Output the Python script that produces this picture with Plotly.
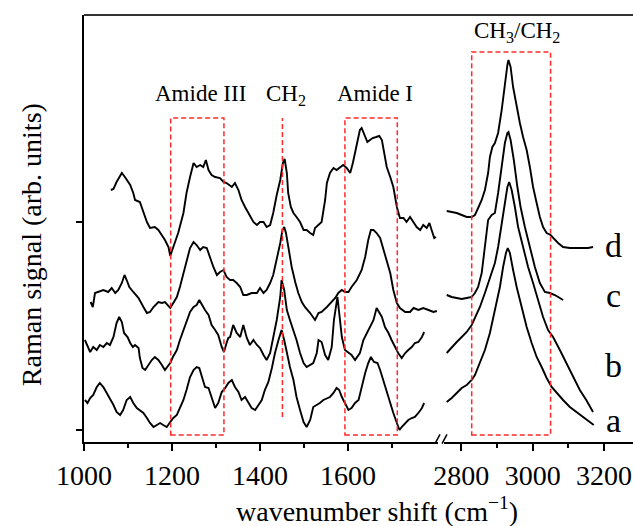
import plotly.graph_objects as go

# ---------------- data ----------------
# low-wavenumber region (1000-1800 cm-1)
a_low_wn = [1002,1008,1014,1021,1029,1036,1044,1052,1059,1067,
            1074,1082,1089,1097,1105,1112,1120,1127,1135,1143,
            1150,1158,1165,1173,1180,1188,1196,1203,1211,1218,
            1226,1233,1241,1249,1256,1262,1268,1275,1283,1290,
            1298,1305,1313,1321,1328,1336,1343,1351,1358,1366,
            1374,1381,1389,1396,1404,1411,1419,1427,1434,1442,
            1449,1455,1461,1468,1476,1483,1491,1499,1506,1514,
            1521,1529,1536,1544,1552,1559,1567,1574,1580,1586,
            1593,1601,1608,1616,1624,1631,1639,1646,1652,1659,
            1667,1673,1680,1688,1696,1703,1711,1717,1722,1730,
            1737,1745,1752,1760,1768,1773]
a_low_int = [40,37,42,45,53,57,53,47,42,35,
             28,25,30,40,43,37,32,30,27,22,
             17,13,15,17,15,13,18,22,25,32,
             40,50,63,70,73,72,63,53,52,42,
             32,37,48,52,57,60,53,48,40,43,
             37,32,30,35,40,50,58,72,87,100,
             110,100,87,73,60,43,30,18,13,20,
             33,35,37,40,42,43,47,52,50,43,
             37,30,32,37,40,53,67,77,83,78,
             77,70,60,47,37,27,17,10,13,17,
             20,22,23,27,32,37]

b_low_wn = [1002,1008,1014,1021,1029,1036,1044,1052,1059,1067,
            1074,1080,1086,1091,1099,1105,1111,1116,1124,1127,
            1133,1139,1146,1154,1161,1169,1177,1184,1189,1196,
            1202,1211,1218,1226,1233,1241,1249,1256,1262,1268,
            1275,1283,1290,1298,1305,1313,1318,1324,1328,1332,
            1339,1347,1355,1362,1370,1377,1385,1393,1400,1408,
            1415,1423,1430,1438,1446,1449,1455,1461,1468,1476,
            1483,1491,1499,1506,1514,1521,1529,1533,1540,1548,
            1555,1563,1568,1573,1576,1580,1586,1593,1601,1608,
            1616,1620,1627,1635,1643,1650,1658,1665,1671,1677,
            1684,1692,1699,1707,1714,1722,1730,1737,1745,1752,
            1760,1768,1773]
b_low_int = [100,93,88,93,90,95,93,97,95,103,
             117,123,118,107,103,97,93,95,92,82,
             72,70,75,80,83,80,75,70,73,77,
             83,90,100,110,120,128,133,135,140,135,
             130,125,115,110,105,93,88,97,102,103,
             115,107,103,115,102,95,100,95,92,85,
             80,87,103,120,143,160,150,130,120,110,
             100,87,77,73,75,77,87,100,98,85,
             80,93,120,137,143,127,103,90,87,85,
             80,83,87,100,107,112,120,132,128,123,
             113,107,100,93,87,82,87,90,93,97,
             98,103,108]

c_low_wn = [1015,1020,1025,1033,1044,1055,1063,1071,1078,1086,
            1092,1097,1103,1112,1124,1135,1143,1150,1158,1169,
            1177,1184,1189,1196,1203,1211,1218,1226,1233,1241,
            1249,1256,1264,1271,1279,1286,1294,1302,1309,1317,
            1324,1332,1339,1347,1355,1362,1370,1381,1393,1400,
            1408,1415,1423,1430,1438,1446,1451,1455,1459,1465,
            1472,1480,1487,1495,1502,1514,1525,1533,1540,1552,
            1563,1571,1578,1586,1593,1601,1608,1620,1631,1639,
            1646,1652,1658,1665,1673,1680,1688,1696,1703,1711,
            1718,1730,1741,1749,1760,1771,1783,1794,1802]
c_low_int = [138,133,147,148,150,148,152,147,150,157,
             165,160,153,148,142,133,127,128,133,138,
             137,138,135,132,137,143,153,167,180,192,
             198,195,190,193,192,183,173,165,168,170,
             163,160,160,157,153,145,145,147,147,152,
             147,150,157,165,180,197,210,213,207,190,
             173,158,147,138,133,127,120,127,128,133,
             138,142,147,150,148,148,153,160,170,183,
             200,210,210,207,202,192,180,167,150,137,
             132,128,128,132,130,132,130,128,129]

d_low_wn = [1061,1067,1074,1086,1093,1105,1112,1116,1127,1135,
            1143,1150,1161,1169,1177,1184,1192,1196,1203,1214,
            1226,1233,1241,1249,1256,1264,1271,1277,1283,1290,
            1298,1309,1317,1324,1336,1343,1351,1358,1366,1377,
            1385,1393,1400,1408,1415,1423,1430,1438,1446,1452,
            1456,1461,1464,1470,1476,1483,1491,1499,1506,1514,
            1521,1525,1533,1540,1548,1552,1559,1567,1574,1582,
            1589,1597,1605,1611,1616,1621,1627,1631,1635,1639,
            1644,1650,1656,1664,1671,1677,1682,1688,1696,1703,
            1711,1718,1726,1733,1741,1749,1756,1764,1771,1779,
            1785,1790,1796,1800]
d_low_int = [250,251,258,267,263,255,247,240,238,227,
             218,212,213,210,205,200,193,184,193,207,
             227,247,263,277,273,275,273,280,270,265,
             263,262,258,257,253,257,250,240,233,225,
             218,215,218,218,213,215,227,245,260,277,
             281,267,247,233,227,223,218,210,210,207,
             205,212,215,218,240,257,267,272,270,273,
             275,272,267,277,287,300,310,312,308,303,
             298,300,302,303,304,300,287,273,263,253,
             233,222,222,218,223,217,213,210,215,212,
             217,210,202,203]

# high-wavenumber region (2750-3280 cm-1)
a_high_wn = [2759,2773,2787,2801,2815,2829,2838,2852,2866,2880,
             2894,2908,2917,2925,2930,2936,2945,2955,2969,2983,
             2997,3011,3025,3039,3053,3067,3085,3104,3122,3141,
             3160,3171]
a_high_int = [38,42,47,52,55,60,65,77,90,107,
              130,153,173,187,192,187,170,153,133,113,
              97,83,73,62,53,47,40,33,28,23,
              18,15]

b_high_wn = [2759,2773,2787,2801,2815,2829,2838,2852,2866,2875,
             2885,2894,2903,2913,2922,2929,2934,2941,2950,2959,
             2973,2987,3001,3015,3029,3043,3057,3076,3094,3113,
             3132,3150,3169]
b_high_int = [87,93,98,103,108,115,122,133,147,157,
              167,177,193,217,240,253,258,250,233,213,
              193,173,157,140,123,110,103,90,77,63,
              50,40,28]

c_high_wn = [2759,2773,2787,2801,2815,2829,2838,2847,2857,2866,
             2875,2885,2894,2903,2913,2922,2929,2932,2938,2947,
             2957,2966,2978,2992,3006,3020,3034,3048,3062,3076,
             3085]
c_high_int = [145,143,142,141,142,143,147,153,167,193,
              220,225,227,247,273,297,307,308,300,280,
              253,233,213,193,173,157,148,147,145,142,
              140]

d_high_wn = [2759,2773,2787,2801,2815,2829,2838,2847,2857,2866,
             2875,2880,2887,2894,2903,2913,2922,2929,2932,2938,
             2945,2955,2964,2973,2983,2992,3001,3011,3020,3029,
             3039,3050,3057,3071,3085,3104,3122,3141,3155,3169]
d_high_int = [229,228,227,225,223,223,225,232,240,250,
              267,283,293,297,307,330,357,375,380,373,
              353,333,317,303,290,273,253,237,223,213,
              207,205,202,197,193,192,192,192,192,193]

series_names = ["a", "b", "c", "d"]
low_wn = [a_low_wn, b_low_wn, c_low_wn, d_low_wn]
low_int = [a_low_int, b_low_int, c_low_int, d_low_int]
high_wn = [a_high_wn, b_high_wn, c_high_wn, d_high_wn]
high_int = [a_high_int, b_high_int, c_high_int, d_high_int]
label_y = [20, 75, 145, 195]

low_ticks = [1000, 1200, 1400, 1600]
low_minor = [1100, 1300, 1500, 1700]
high_ticks = [2800, 3000, 3200]
high_minor = [2900, 3100]
y_ticks = [10, 218]

amide3_band = [1197, 1318]
amide1_band = [1593, 1712]
ch2_line = 1451
chx_band = [2829, 3050]

# ---------------- figure ----------------
SERIF = "Liberation Serif, Times New Roman, serif"
fig = go.Figure()
for name, xw, yi in zip(series_names, low_wn, low_int):
    fig.add_trace(go.Scatter(x=xw, y=yi, mode="lines", xaxis="x", yaxis="y",
                             line=dict(color="black", width=1.9), showlegend=False))
for name, xw, yi in zip(series_names, high_wn, high_int):
    fig.add_trace(go.Scatter(x=xw, y=yi, mode="lines", xaxis="x2", yaxis="y",
                             line=dict(color="black", width=1.9), showlegend=False))

axis_common = dict(showline=True, linecolor="black", linewidth=2, ticks="outside",
                   ticklen=7, tickwidth=1.5, tickcolor="black", showgrid=False,
                   zeroline=False, tickfont=dict(family=SERIF, size=28, color="black"))

fig.update_layout(
    width=633, height=526,
    margin=dict(l=84, r=0, t=15, b=84, autoexpand=False),
    paper_bgcolor="white", plot_bgcolor="white",
    xaxis=dict(domain=[0, 0.6448], range=[1000, 1804.5], tickvals=low_ticks,
               minor=dict(tickvals=low_minor, ticks="outside", ticklen=4,
                          tickwidth=1.5, tickcolor="black"),
               anchor="y", automargin=False, **axis_common),
    xaxis2=dict(domain=[0.6557, 1], range=[2751.3, 3281], tickvals=high_ticks,
                minor=dict(tickvals=high_minor, ticks="outside", ticklen=4,
                           tickwidth=1.5, tickcolor="black"),
                anchor="y", automargin=False, **axis_common),
    yaxis=dict(domain=[0, 1], range=[-2, 425], tickvals=y_ticks, showticklabels=False,
               showline=True, linecolor="black", linewidth=2, ticks="outside",
               ticklen=6, tickwidth=1.5, tickcolor="black", showgrid=False,
               zeroline=False, anchor="x", automargin=False),
)

red = "#ff2a2a"
dash = "5px,3px"
shapes = [
    dict(type="line", xref="paper", yref="paper", x0=0, x1=1, y0=1, y1=1,
         line=dict(color="#333333", width=2)),
    dict(type="line", xref="paper", yref="paper", x0=0.6393, x1=0.6485, y0=-0.004, y1=0.018,
         line=dict(color="black", width=1.5)),
    dict(type="line", xref="paper", yref="paper", x0=0.6521, x1=0.6612, y0=-0.004, y1=0.018,
         line=dict(color="black", width=1.5)),
    dict(type="rect", xref="x", yref="y", x0=amide3_band[0], x1=amide3_band[1], y0=5, y1=322,
         line=dict(color=red, width=1.5, dash=dash)),
    dict(type="rect", xref="x", yref="y", x0=amide1_band[0], x1=amide1_band[1], y0=5, y1=322,
         line=dict(color=red, width=1.5, dash=dash)),
    dict(type="line", xref="x", yref="y", x0=ch2_line, x1=ch2_line, y0=23, y1=322,
         line=dict(color=red, width=1.5, dash=dash)),
    dict(type="rect", xref="x2", yref="y", x0=chx_band[0], x1=chx_band[1], y0=5, y1=388,
         line=dict(color=red, width=1.5, dash=dash)),
]
fig.update_layout(shapes=shapes)

lab_font = dict(family=SERIF, size=23, color="black")
ann = [
    dict(text="Amide III", x=1264, y=347, xref="x", yref="y", showarrow=False, font=lab_font),
    dict(text="CH<sub>2</sub>", x=1459, y=345, xref="x", yref="y", showarrow=False, font=lab_font),
    dict(text="Amide I", x=1661, y=347, xref="x", yref="y", showarrow=False, font=lab_font),
    dict(text="CH<sub>3</sub>/CH<sub>2</sub>", x=2955, y=408, xref="x2", yref="y",
         showarrow=False, font=lab_font),
    dict(text="wavenumber shift (cm<sup>\u22121</sup>)", x=0.5337, y=-0.159, xref="paper",
         yref="paper", showarrow=False, xanchor="center", yanchor="middle",
         font=dict(family=SERIF, size=28, color="black")),
    dict(text="Raman signal (arb. units)", x=-0.0965, y=0.461, xref="paper", yref="paper",
         showarrow=False, textangle=-90, xanchor="center", yanchor="middle",
         font=dict(family=SERIF, size=28, color="black")),
]
for name, ly in zip(series_names, label_y):
    ann.append(dict(text=name, x=3227, y=ly, xref="x2", yref="y", showarrow=False,
                    font=dict(family=SERIF, size=34, color="black")))
fig.update_layout(annotations=ann)

fig.write_html("out.html", config={"displayModeBar": False},
               post_script="document.body.style.margin='0';document.body.style.overflow='hidden';")
